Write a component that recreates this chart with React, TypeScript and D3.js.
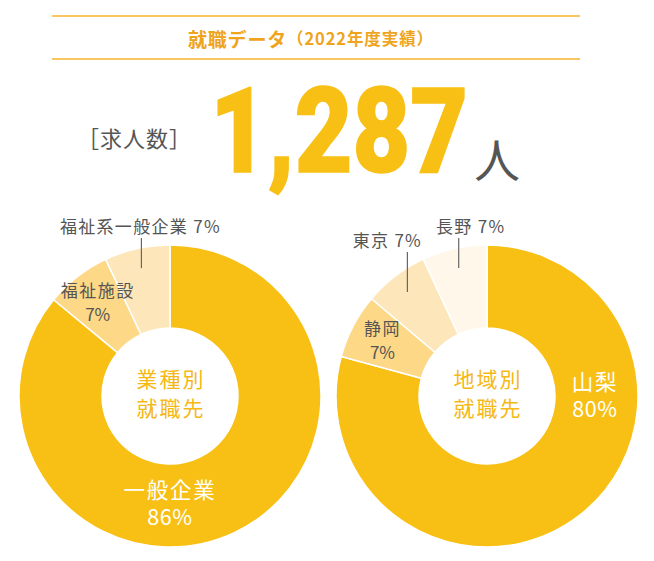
import React, { useLayoutEffect, useRef, useState } from "react";
import * as d3 from "d3";

// ---- data ----
const industryLabels = ["一般企業", "福祉施設", "福祉系一般企業"];
const industryValues = [86, 7, 7];
const regionLabels = ["山梨", "静岡", "東京", "長野"];
const regionValues = [80, 7, 7, 7];
const totalJobs = 1287;
const titleMain = "就職データ";
const titleSub = "（2022年度実績）";

// ---- styles ----
const W = 654;
const H = 561;
const JP = "'Noto Sans CJK JP', 'Noto Sans', sans-serif";
const MAIN = "#F8C015";
const industryColors = [MAIN, "#FDD886", "#FDE7BA"];
const regionColors = [MAIN, "#FDD886", "#FDE7BA", "#FFF7EA"];
const GRAY = "#555555";
const YELLOW_TEXT = "#F5B814";
const ORANGE = "#EFA41E";

const R_OUT = 151;
const R_IN = 68;
const CY = 396;

type LabelMode = "inside" | "leader" | "main";
interface DonutProps {
  cx: number;
  labels: string[];
  values: number[];
  colors: string[];
  center: [string, string];
  modes: LabelMode[];
  leaderTop: number[];
  leaderDx: number[];
  mainAngle: number;
}

function Donut({ cx, labels, values, colors, center, modes, leaderTop, leaderDx, mainAngle }: DonutProps) {
  const pie = d3.pie<number>().sort(null).startAngle(0).endAngle(2 * Math.PI);
  const arcs = pie(values);
  const arc = d3.arc<d3.PieArcDatum<number>>().innerRadius(R_IN).outerRadius(R_OUT);
  const pos = (ang: number, r: number): [number, number] => [
    cx + r * Math.sin(ang),
    CY - r * Math.cos(ang),
  ];
  return (
    <g>
      <g transform={`translate(${cx},${CY})`}>
        {arcs.map((a, i) => (
          <path key={i} d={arc(a) || ""} fill={colors[i]} stroke="#fff" strokeWidth={1.5} />
        ))}
      </g>
      {arcs.map((a, i) => {
        const mid = (a.startAngle + a.endAngle) / 2;
        const pct = `${values[i]}%`;
        if (modes[i] === "main") {
          const [x, y] = pos(mainAngle, 108);
          return (
            <text key={i} fontFamily={JP} fill="#fff" fontSize={21.5} textAnchor="middle">
              <tspan x={x} y={y - 6} letterSpacing={1.8}>{labels[i]}</tspan>
              <tspan x={x} y={y + 21} letterSpacing={0.6}>{pct}</tspan>
            </text>
          );
        }
        if (modes[i] === "inside") {
          const [x, y] = pos(mid, 118);
          return (
            <text key={i} fontFamily={JP} fill={GRAY} fontSize={17} textAnchor="middle">
              <tspan x={x} y={y - 6} letterSpacing={1.5}>{labels[i]}</tspan>
              <tspan x={x} y={y + 18}>{pct}</tspan>
            </text>
          );
        }
        const [lx, ly] = pos(mid, 131);
        const ty = leaderTop[i];
        return (
          <g key={i}>
            <line x1={lx} x2={lx} y1={ly} y2={ty + 13} stroke="#666" strokeWidth={1.2} />
            <text
              x={lx + leaderDx[i]}
              y={ty}
              fontFamily={JP}
              fill={GRAY}
              fontSize={17}
              textAnchor="middle"
              dominantBaseline="central"
              letterSpacing={1.3}
            >
              {`${labels[i]} ${pct}`}
            </text>
          </g>
        );
      })}
      <text fontFamily={JP} fill={YELLOW_TEXT} fontSize={21} textAnchor="middle" letterSpacing={2}>
        <tspan x={cx + 1} y={CY - 9}>{center[0]}</tspan>
        <tspan x={cx + 1} y={CY + 20}>{center[1]}</tspan>
      </text>
    </g>
  );
}

function BigNumber() {
  const ref = useRef<SVGTextElement>(null);
  const [sx, setSx] = useState(0.89);
  const target = 258;
  useLayoutEffect(() => {
    if (ref.current) {
      const w = ref.current.getComputedTextLength();
      if (w > 0) setSx(target / w);
    }
  }, []);
  return (
    <text
      ref={ref}
      transform={`translate(210,172) scale(${sx},1)`}
      fontFamily="Roboto, 'DejaVu Sans', sans-serif"
      fontWeight={900}
      fontSize={118}
      fill={MAIN}
      stroke={MAIN}
      strokeWidth={1.5}
    >
      {d3.format(",")(totalJobs)}
    </text>
  );
}

export default function App() {
  const leftCx = 170;
  const rightCx = 487;
  return (
    <svg width={W} height={H} style={{ position: "absolute", left: 0, top: 0 }}>
      <rect width={W} height={H} fill="#fff" />
      {/* header */}
      <line x1={52} x2={580} y1={16} y2={16} stroke="#F6B52E" strokeWidth={1.5} />
      <line x1={52} x2={580} y1={59} y2={59} stroke="#F6B52E" strokeWidth={1.5} />
      <text x={311} y={38} textAnchor="middle" dominantBaseline="central" fontFamily={JP} fill={ORANGE} fontWeight={700}>
        <tspan fontSize={19} letterSpacing={0.8}>{titleMain}</tspan>
        <tspan fontSize={16.5} letterSpacing={0.9}>{titleSub}</tspan>
      </text>
      {/* count */}
      <text x={77} y={137} dominantBaseline="central" fontFamily={JP} fill={GRAY} fontSize={22} letterSpacing={1}>
        ［求人数］
      </text>
      <BigNumber />
      <text x={474} y={157} dominantBaseline="central" fontFamily={JP} fill={GRAY} fontSize={46}>
        人
      </text>
      <Donut
        cx={leftCx}
        labels={industryLabels}
        values={industryValues}
        colors={industryColors}
        center={["業種別", "就職先"]}
        modes={["main", "inside", "leader"]}
        leaderTop={[0, 0, 225]}
        leaderDx={[0, 0, -1]}
        mainAngle={Math.PI}
      />
      <Donut
        cx={rightCx}
        labels={regionLabels}
        values={regionValues}
        colors={regionColors}
        center={["地域別", "就職先"]}
        modes={["main", "inside", "leader", "leader"]}
        leaderTop={[0, 0, 239, 225]}
        leaderDx={[0, 0, -20, 12]}
        mainAngle={Math.PI / 2}
      />
    </svg>
  );
}
